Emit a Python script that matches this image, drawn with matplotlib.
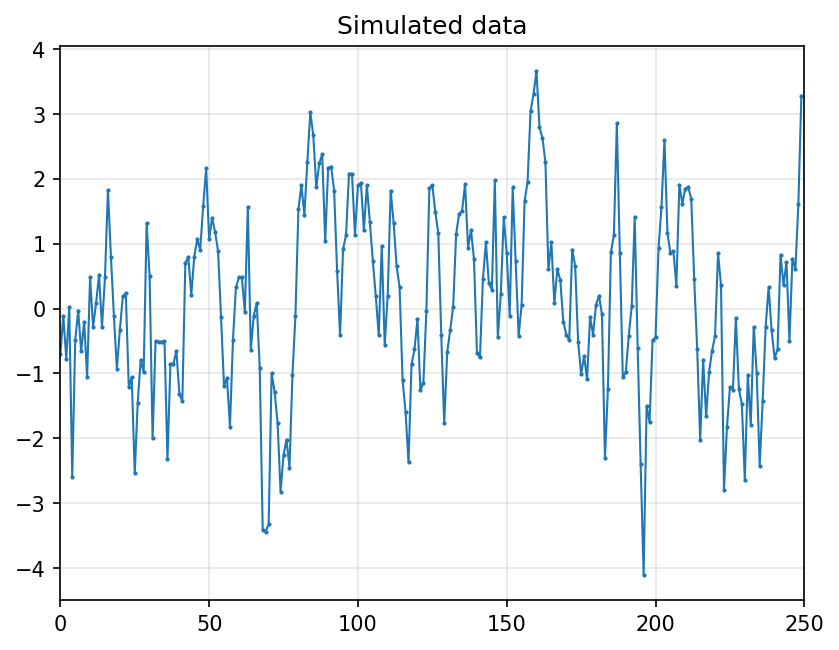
import numpy as np
import matplotlib
matplotlib.use("Agg")
import matplotlib.pyplot as plt

# values, one per time step
values = [
    -0.70, -0.11, -0.77, 0.02, -2.60, -0.49, -0.03, -0.66, -0.20, -1.06,
    0.49, -0.28, 0.08, 0.52, -0.28, 0.48, 1.83, 0.80, -0.11, -0.93,
    -0.33, 0.19, 0.24, -1.21, -1.06, -2.54, -1.45, -0.79, -0.98, 1.32,
    0.50, -2.00, -0.50, -0.51, -0.51, -0.50, -2.32, -0.85, -0.85, -0.65,
    -1.32, -1.42, 0.70, 0.80, 0.21, 0.80, 1.07, 0.91, 1.58, 2.17,
    1.07, 1.40, 1.18, 0.89, -0.13, -1.19, -1.07, -1.82, -0.49, 0.33,
    0.48, 0.48, -0.05, 1.57, -0.64, -0.11, 0.09, -0.91, -3.42, -3.44,
    -3.32, -1.00, -1.28, -1.76, -2.82, -2.26, -2.02, -2.45, -1.02, -0.11,
    1.53, 1.90, 1.45, 2.26, 3.03, 2.67, 1.87, 2.24, 2.38, 1.04,
    2.17, 2.19, 1.82, 0.58, -0.41, 0.92, 1.13, 2.08, 2.08, 1.14,
    1.90, 1.94, 1.21, 1.90, 1.34, 0.74, 0.19, -0.41, 0.97, -0.56,
    0.20, 1.82, 1.32, 0.65, 0.33, -1.10, -1.59, -2.37, -0.86, -0.63,
    -0.16, -1.26, -1.14, -0.04, 1.86, 1.90, 1.49, 1.16, -0.41, -1.77,
    -0.67, -0.33, 0.03, 1.15, 1.46, 1.51, 1.92, 0.94, 1.21, 0.76,
    -0.69, -0.75, 0.45, 1.02, 0.39, 0.29, 1.98, -0.44, 0.22, 1.41,
    0.85, -0.11, 1.87, 0.74, -0.42, 0.05, 1.66, 1.95, 3.04, 3.31,
    3.66, 2.80, 2.63, 2.26, 0.61, 1.02, 0.08, 0.61, 0.44, -0.20,
    -0.40, -0.49, 0.91, 0.66, -0.52, -1.01, -0.73, -1.09, -0.13, -0.40,
    0.06, 0.20, -0.09, -2.31, -1.24, 0.87, 1.13, 2.86, 0.86, -1.06,
    -0.98, -0.42, 0.04, 1.41, -0.61, -2.40, -4.11, -1.50, -1.75, -0.49,
    -0.44, 0.93, 1.57, 2.60, 1.17, 0.85, 0.89, 0.35, 1.91, 1.62,
    1.85, 1.87, 1.69, 0.45, -0.62, -2.03, -0.79, -1.66, -0.98, -0.65,
    -0.42, 0.86, 0.36, -2.80, -1.83, -1.21, -1.25, -0.14, -1.24, -1.47,
    -2.64, -1.02, -1.79, -0.28, -1.00, -2.42, -1.42, -0.28, 0.33, -0.33,
    -0.76, -0.63, 0.83, 0.36, 0.72, -0.50, 0.77, 0.61, 1.62, 3.28,
]
steps = np.arange(len(values))

fig, ax = plt.subplots(figsize=(6.4, 4.8), dpi=150)
ax.plot(steps, values, marker='.', markersize=2, linewidth=1, color='tab:blue')
ax.set_title('Simulated data')
ax.set_xlim(0, 250)
ax.grid(True, alpha=0.3)
fig.savefig('out.png', dpi=150, bbox_inches='tight')
